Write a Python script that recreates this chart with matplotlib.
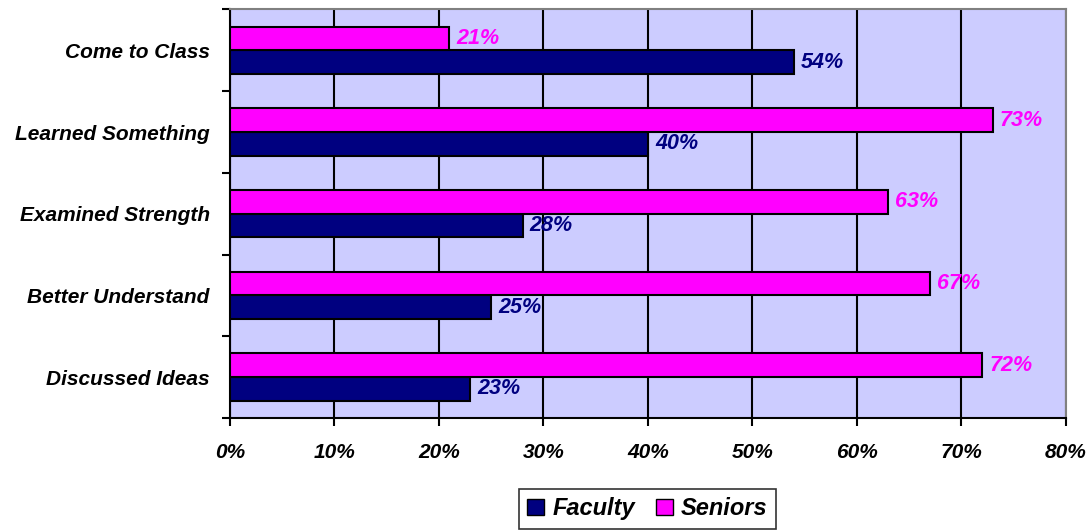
import numpy as np
import matplotlib.pyplot as plt
from matplotlib.patches import Patch
from matplotlib.ticker import MultipleLocator, FixedLocator

categories = ["Discussed Ideas", "Better Understand", "Examined Strength",
              "Learned Something", "Come to Class"]
faculty = [23, 25, 28, 40, 54]
seniors = [72, 67, 63, 73, 21]

navy = "#000080"
magenta = "#FF00FF"

plt.rcParams['font.family'] = ['Liberation Sans', 'DejaVu Sans']

fig = plt.figure(figsize=(10.91, 5.31), dpi=100)
ax = fig.add_axes([0.2108, 0.2128, 0.7662, 0.7694])
ax.set_facecolor("#CCCCFF")

y = np.arange(len(categories))
h = 0.29
ax.barh(y - h / 2, faculty, height=h, color=navy, edgecolor="black", linewidth=1.5, zorder=3)
ax.barh(y + h / 2, seniors, height=h, color=magenta, edgecolor="black", linewidth=1.5, zorder=3)

for i in range(len(categories)):
    ax.annotate(f"{faculty[i]}%", (faculty[i], y[i] - h / 2), xytext=(5, 0),
                textcoords="offset points", va="center", ha="left", color=navy,
                fontsize=15.5, fontweight="bold", fontstyle="italic", zorder=4)
    ax.annotate(f"{seniors[i]}%", (seniors[i], y[i] + h / 2), xytext=(5, 0),
                textcoords="offset points", va="center", ha="left", color=magenta,
                fontsize=15.5, fontweight="bold", fontstyle="italic", zorder=4)

ax.set_xlim(0, 80)
ax.set_ylim(-0.5, len(categories) - 0.5)
ax.xaxis.set_major_locator(MultipleLocator(10))
ax.set_xticklabels([f"{int(v)}%" for v in ax.get_xticks()])
ax.xaxis.grid(True, color="black", linewidth=1.5, zorder=0)
ax.set_axisbelow(True)

ax.set_yticks(y)
ax.set_yticklabels(categories)
ax.yaxis.set_minor_locator(FixedLocator(np.arange(-0.5, len(categories), 1)))
ax.tick_params(axis="y", which="major", length=0, pad=14.5)
ax.tick_params(axis="y", which="minor", length=6, width=1.5)
ax.tick_params(axis="x", length=6, width=1.5, pad=12)
for lab in ax.get_xticklabels() + ax.get_yticklabels():
    lab.set_fontsize(15)
    lab.set_fontweight("bold")
    lab.set_fontstyle("italic")

ax.spines["left"].set_linewidth(1.5)
ax.spines["bottom"].set_linewidth(1.5)
ax.spines["top"].set_color("#808080")
ax.spines["right"].set_color("#808080")
ax.spines["top"].set_linewidth(1.5)
ax.spines["right"].set_linewidth(1.5)

handles = [Patch(facecolor=navy, edgecolor="black", label="Faculty"),
           Patch(facecolor=magenta, edgecolor="black", label="Seniors")]
leg = fig.legend(handles=handles, loc="center", bbox_to_anchor=(0.5935, 0.0415), ncol=2,
                 frameon=True, fancybox=False, edgecolor="black", handlelength=0.7,
                 handleheight=0.7, handletextpad=0.35, columnspacing=0.9,
                 borderpad=0.35, prop={"size": 17, "weight": "bold", "style": "italic"})
leg.get_frame().set_linewidth(1.2)

fig.savefig("out.png", dpi=100)
